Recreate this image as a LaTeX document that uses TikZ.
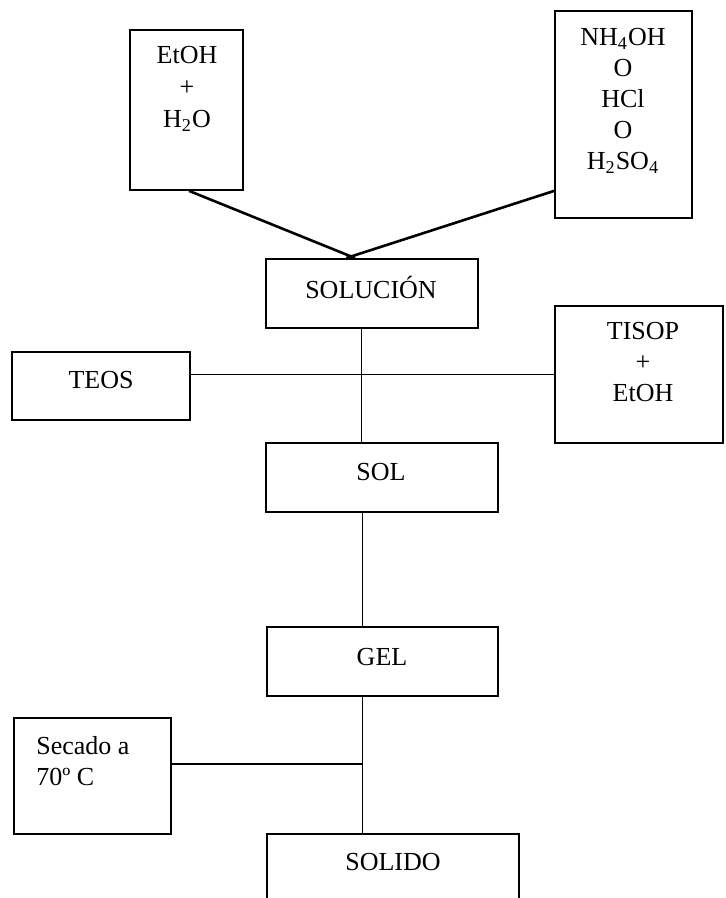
\documentclass[tikz,border=0pt]{standalone}
\usepackage{fontspec}
\setmainfont{Liberation Serif}
\usetikzlibrary{calc,fit}
\begin{document}
\begin{tikzpicture}[x=0.5pt,y=-0.5pt,
  box/.style={draw,line width=0.9pt,rectangle,inner sep=0pt},
  lbl/.style={font=\fontsize{13}{15.5}\selectfont,align=center,inner sep=0pt},
  link/.style={line width=0.6pt},
  feed/.style={line width=1.3pt}]
  \useasboundingbox (0,0) rectangle (725,898);
  \fill[white] (0,0) rectangle (725,898);
  \clip (0,0) rectangle (725,898);

  % boxes
  \node[box, fit={(130,30) (243,190)}]   (etoh)   {};
  \node[box, fit={(555,11) (692,218)}]   (nh)     {};
  \node[box, fit={(266,259) (478,328)}]  (solu)   {};
  \node[box, fit={(12,352) (190,420)}]   (teos)   {};
  \node[box, fit={(555,306) (723,443)}]  (tisop)  {};
  \node[box, fit={(266,443) (498,512)}]  (sol)    {};
  \node[box, fit={(267,627) (498,696)}]  (gel)    {};
  \node[box, fit={(14,718) (171,834)}]   (secado) {};
  \node[box, fit={(267,834) (519,915)}]  (solido) {};

  % texts
  \node[lbl,font=\fontsize{13}{16}\selectfont] (etoh-t) at (187,89) {EtOH\\+\\H\textsubscript{2}O};
  \node[lbl] (nh-t)     at (623,101) {NH\textsubscript{4}OH\\O\\HCl\\O\\H\textsubscript{2}SO\textsubscript{4}};
  \node[lbl] (solu-t)   at (371,287) {SOLUCIÓN};
  \node[lbl] (teos-t)   at (101,380) {TEOS};
  \node[lbl] (tisop-t)  at (643,362) {TISOP\\+\\EtOH};
  \node[lbl] (sol-t)    at (381,472) {SOL};
  \node[lbl] (gel-t)    at (382,657) {GEL};
  \node[lbl,align=left,anchor=west] (secado-t) at (36,761) {Secado a\\70º C};
  \node[lbl] (solido-t) at (393,862) {SOLIDO};

  % reagents feeding the solution
  \draw[feed] ($(etoh.south west)+(60,0)$) -- ($(solu.north west)+(90,0)$);
  \draw[feed] ($(nh.south west)+(0,-28)$) -- ($(solu.north west)+(81,0)$);

  % main line of the process
  \coordinate (s1) at ($(solu.south west)+(96,0)$);
  \draw[link] (s1) -- (s1 |- sol.north);
  \draw[link] (teos.east |- tisop.west) -- (tisop.west);
  \coordinate (s2) at ($(sol.south west)+(97,0)$);
  \draw[link] (s2) -- (s2 |- gel.north);
  \coordinate (s3) at ($(gel.south west)+(96,0)$);
  \draw[link] (s3) -- (s3 |- solido.north);
  \coordinate (dry) at ($(secado.east)+(0,-12)$);
  \draw[link] (dry) -- (dry -| s3);
\end{tikzpicture}
\end{document}
